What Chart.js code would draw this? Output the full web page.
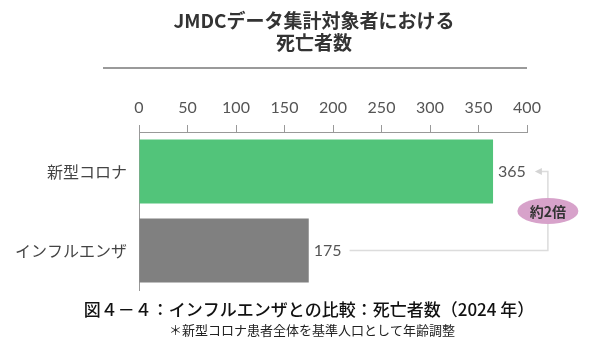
<!DOCTYPE html>
<html><head><meta charset="utf-8">
<script src="https://cdn.jsdelivr.net/npm/chart.js@4.4.1/dist/chart.umd.min.js"></script>
<style>html,body{margin:0;padding:0;background:#fff}#wrap{width:603px;height:356px}</style>
</head><body><div id="wrap"><canvas id="c" width="603" height="356"></canvas></div>
<script>
const categories = ['新型コロナ', 'インフルエンザ'];
const deaths = [365, 175];
const barColors = ['#52c47a', '#808080'];
const axisMin = 0, axisMax = 400, axisStep = 50;
const titleLines = ['JMDCデータ集計対象者における', '死亡者数'];
const captionText = '図４－４：インフルエンザとの比較：死亡者数（2024 年）';
const noteText = '＊新型コロナ患者全体を基準人口として年齢調整';
const ratioLabel = '約2倍';

const JP = '"Noto Sans CJK JP", "Noto Sans", sans-serif';
const NUM = 'Lato, "Noto Sans", sans-serif';

const decor = {
  id: 'decor',
  afterDraw(chart) {
    const {ctx, chartArea: a, scales: {x, y}} = chart;
    ctx.save();
    // rule under title
    ctx.strokeStyle = '#9a9a9a'; ctx.lineWidth = 2;
    ctx.beginPath(); ctx.moveTo(a.left - 36, a.top - 64); ctx.lineTo(a.right, a.top - 64); ctx.stroke();
    // value labels
    ctx.font = '16px ' + NUM; ctx.fillStyle = '#555'; ctx.textBaseline = 'middle'; ctx.textAlign = 'left';
    const ends = [];
    deaths.forEach((v, i) => {
      const px = x.getPixelForValue(v) + 5, py = y.getPixelForValue(i);
      ctx.fillText(String(v), px, py);
      ends.push([px + ctx.measureText(String(v)).width, py]);
    });
    // bracket
    const tipX = ends[0][0] + 9, vx = tipX + 13;
    ctx.strokeStyle = '#dcdcdc'; ctx.lineWidth = 1.5;
    ctx.beginPath();
    ctx.moveTo(tipX + 4, ends[0][1]); ctx.lineTo(vx, ends[0][1]);
    ctx.lineTo(vx, ends[1][1]); ctx.lineTo(ends[1][0] + 8, ends[1][1]);
    ctx.stroke();
    ctx.fillStyle = '#d4d4d4';
    ctx.beginPath(); ctx.moveTo(tipX, ends[0][1]); ctx.lineTo(tipX + 7, ends[0][1] - 3.5); ctx.lineTo(tipX + 7, ends[0][1] + 3.5); ctx.closePath(); ctx.fill();
    // ellipse badge
    const cy = (ends[0][1] + ends[1][1]) / 2;
    ctx.fillStyle = '#d7a2ca';
    ctx.beginPath(); ctx.ellipse(vx, cy, 30.5, 13, 0, 0, Math.PI * 2); ctx.fill();
    ctx.fillStyle = '#333'; ctx.font = 'bold 14px ' + JP; ctx.textAlign = 'center';
    ctx.fillText(ratioLabel, vx, cy + 1);
    // captions
    const mid = (a.left + a.right) / 2;
    ctx.fillStyle = '#111'; ctx.font = '500 17px ' + JP;
    ctx.fillText(captionText, mid - 24, a.bottom + 20);
    ctx.fillStyle = '#222'; ctx.font = '13px ' + JP;
    ctx.fillText(noteText, mid - 21, a.bottom + 40);
    ctx.restore();
  }
};

new Chart(document.getElementById('c'), {
  type: 'bar',
  data: {
    labels: categories,
    datasets: [{
      data: deaths,
      backgroundColor: barColors,
      borderWidth: 0,
      barPercentage: 0.9,
      categoryPercentage: 0.9
    }]
  },
  options: {
    indexAxis: 'y',
    responsive: false,
    animation: false,
    devicePixelRatio: 1,
    layout: {padding: {left: 8, right: -17, top: 0, bottom: 66}},
    plugins: {
      legend: {display: false},
      tooltip: {enabled: false},
      title: {
        display: true,
        text: titleLines,
        color: '#333',
        font: {family: JP, size: 19, weight: 'bold', lineHeight: 1.14},
        padding: {top: 10, bottom: 36.5}
      }
    },
    scales: {
      x: {
        position: 'top',
        min: axisMin, max: axisMax,
        ticks: {stepSize: axisStep, color: '#555', font: {family: NUM, size: 16}, padding: 8},
        grid: {drawOnChartArea: false, drawTicks: true, tickLength: 7, color: '#999'},
        border: {display: true, color: '#999', width: 1}
      },
      y: {
        ticks: {color: '#444', font: {family: JP, size: 16}, padding: 12},
        grid: {display: false, drawTicks: false},
        border: {display: true, color: '#999', width: 1},
        afterFit(s) { s.width = 131; }
      },
      spacer: {
        type: 'linear',
        position: 'right',
        display: true,
        ticks: {display: false},
        grid: {display: false, drawTicks: false},
        border: {display: false},
        afterFit(s) { s.width = 93; }
      }
    }
  },
  plugins: [decor]
});
</script>
</body></html>
